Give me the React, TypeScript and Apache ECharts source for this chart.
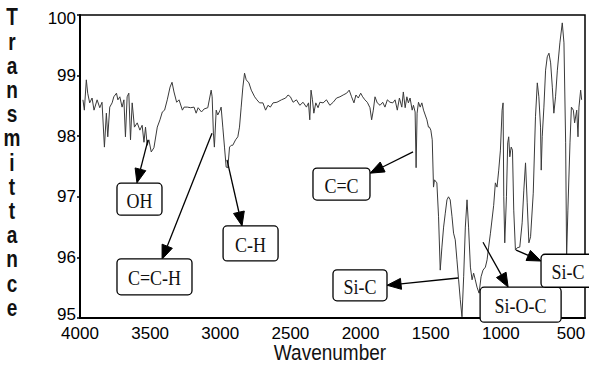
import React, { useEffect, useRef } from "react";
import * as echarts from "echarts";

// Spectrum (wavenumber in cm-1, transmittance)
const wavenumbers = [
  3979, 3969, 3955, 3945, 3931, 3914, 3900, 3878, 3859, 3843, 3826, 3812, 3802, 3788, 3771, 3759, 3740, 3730, 3716, 3700,
  3687, 3676, 3664, 3652, 3640, 3628, 3612, 3592, 3573, 3557, 3544, 3533, 3521, 3509, 3492, 3473, 3449, 3430, 3413, 3397,
  3378, 3358, 3344, 3330, 3311, 3294, 3270, 3258, 3235, 3211, 3187, 3172, 3158, 3134, 3115, 3089, 3065, 3058, 3049, 3042,
  3029, 3018, 3001, 2994, 2982, 2970, 2958, 2946, 2934, 2922, 2911, 2891, 2875, 2863, 2851, 2839, 2827, 2815, 2796, 2779,
  2755, 2739, 2720, 2696, 2677, 2660, 2643, 2624, 2596, 2564, 2534, 2517, 2500, 2481, 2457, 2433, 2410, 2386, 2371, 2362,
  2353, 2343, 2333, 2319, 2303, 2290, 2267, 2243, 2219, 2195, 2171, 2147, 2124, 2099, 2081, 2064, 2047, 2033, 2016, 1999,
  1985, 1969, 1952, 1933, 1921, 1909, 1897, 1881, 1861, 1842, 1826, 1809, 1790, 1770, 1754, 1738, 1723, 1706, 1695, 1682,
  1670, 1659, 1647, 1632, 1623, 1611, 1604, 1597, 1587, 1575, 1563, 1551, 1539, 1527, 1516, 1509, 1499, 1489, 1480, 1473,
  1456, 1444, 1432, 1420, 1408, 1396, 1384, 1373, 1361, 1348, 1337, 1325, 1313, 1301, 1289, 1277, 1265, 1253, 1241, 1230,
  1217, 1205, 1194, 1182, 1170, 1155, 1141, 1127, 1110, 1098, 1087, 1074, 1051, 1039, 1027, 1015, 1003, 991, 984, 979,
  972, 960, 951, 944, 936, 926, 917, 908, 896, 883, 865, 848, 836, 824, 812, 800, 788, 769, 753, 740,
  729, 717, 712, 705, 693, 681, 669, 657, 645, 633, 622, 610, 597, 579, 562, 550, 538, 531, 522, 507,
  497, 483, 474, 459, 450, 443, 431, 424,
];

const transmittance = [
  98.6, 98.43, 98.93, 98.71, 98.55, 98.63, 98.43, 98.6, 98.47, 98.56, 97.82, 98.38, 97.99, 98.48, 98.55, 98.65, 98.71, 98.6, 98.65, 98.48,
  98.6, 97.99, 98.65, 98.71, 97.94, 98.55, 98.15, 98.22, 98.1, 98.18, 97.9, 98.15, 97.85, 97.94, 97.74, 97.81, 98.15, 98.27, 98.4, 98.43,
  98.6, 98.81, 98.89, 98.73, 98.56, 98.6, 98.43, 98.48, 98.48, 98.47, 98.48, 98.38, 98.47, 98.4, 98.45, 98.47, 98.76, 98.65, 98.05, 97.82,
  98.43, 98.35, 98.43, 98.48, 98.15, 97.82, 97.49, 97.48, 97.82, 97.85, 97.85, 97.94, 97.99, 98.15, 98.48, 98.81, 99.04, 98.93, 98.88, 98.76,
  98.65, 98.6, 98.55, 98.55, 98.43, 98.51, 98.48, 98.55, 98.56, 98.6, 98.63, 98.68, 98.65, 98.56, 98.6, 98.51, 98.56, 98.48, 98.55, 98.27,
  98.76, 98.6, 98.38, 98.55, 98.47, 98.56, 98.55, 98.6, 98.51, 98.56, 98.63, 98.65, 98.68, 98.71, 98.76, 98.65, 98.55, 98.68, 98.63, 98.71,
  98.65, 98.6, 98.56, 98.47, 98.27, 98.43, 98.65, 98.55, 98.51, 98.56, 98.48, 98.6, 98.56, 98.55, 98.6, 98.43, 98.63, 98.48, 98.73, 98.47,
  98.65, 98.55, 98.63, 98.43, 98.51, 98.4, 97.48, 98.38, 98.56, 98.48, 98.55, 98.43, 98.35, 98.27, 98.15, 98.15, 98.1, 97.94, 97.16, 97.28,
  97.23, 96.67, 95.79, 96.17, 96.5, 96.73, 96.95, 97.0, 96.95, 96.67, 96.4, 96.29, 95.96, 95.63, 95.3, 95.02, 95.68, 96.5, 96.95, 96.5,
  95.84, 95.63, 95.74, 95.63, 95.51, 95.41, 95.68, 95.79, 95.84, 95.96, 96.17, 96.4, 96.86, 97.23, 97.16, 97.44, 97.77, 98.43, 98.55, 97.0,
  96.24, 97.0, 97.89, 97.99, 97.66, 97.82, 97.77, 96.78, 96.12, 96.16, 96.17, 96.57, 97.11, 97.56, 96.9, 96.24, 96.34, 97.06, 98.32, 98.88,
  98.65, 98.15, 97.44, 97.99, 98.48, 99.09, 99.31, 99.37, 99.21, 98.81, 98.38, 98.65, 99.09, 99.54, 99.87, 99.54, 97.89, 96.01, 96.78, 97.89,
  98.48, 98.43, 98.22, 98.43, 97.99, 98.48, 98.76, 98.6,
];

const xTickValues = [4000, 3500, 3000, 2500, 2000, 1500, 1000, 500];
const yTickValues = [95, 96, 97, 98, 99, 100];

const xAxisTitle = "Wavenumber";
const yAxisTitle = "Transmittance";

// Band assignments: label, box centre (wavenumber, transmittance), arrow tail on the band, arrow tip at the box
const bandLabels = ["OH", "C=C-H", "C-H", "C=C", "Si-C", "Si-O-C", "Si-C"];
const bandBoxCentres = [
  [3576, 96.96], [3469, 95.68], [2784, 96.23], [2136, 97.21], [2004, 95.54], [859, 95.22], [521, 95.78],
];
const bandArrowTails = [
  [3515, 97.94], [3059, 98.05], [2952, 97.61], [1626, 97.74], [1305, 95.66], [1127, 96.25], [891, 96.12],
];
const bandArrowTips = [
  [3594, 97.23], [3415, 95.97], [2845, 96.52], [1932, 97.39], [1811, 95.54], [948, 95.51], [713, 95.94],
];
const boxSizes = [
  [45, 32], [75, 36], [55, 35], [57, 32], [54, 31], [81, 35], [54, 33],
];

export default function App() {
  const ref = useRef<HTMLDivElement>(null);

  useEffect(() => {
    if (!ref.current) return;
    const chart = echarts.init(ref.current, undefined, { renderer: "svg" });
    const data = wavenumbers.map((w, i) => [w, transmittance[i]]);
    const sansAxis = '"Liberation Sans", Arial, sans-serif';
    const yMin = yTickValues[0];
    const yMax = yTickValues[yTickValues.length - 1];

    chart.setOption({
      animation: false,
      backgroundColor: "#ffffff",
      grid: {
        left: 80,
        right: 4,
        top: 15,
        bottom: 54,
        show: true,
        borderColor: "#000",
        borderWidth: 1.5,
      },
      xAxis: {
        type: "value",
        inverse: true,
        min: 400,
        max: 4000,
        axisLine: { show: true, lineStyle: { color: "#000", width: 2 } },
        axisTick: { show: false },
        splitLine: { show: false },
        axisLabel: {
          customValues: xTickValues,
          formatter: (v: number) => String(v),
          color: "#000",
          fontSize: 17,
          fontFamily: sansAxis,
          margin: 9,
          lineHeight: 12,
        },
      },
      yAxis: {
        type: "value",
        min: yMin,
        max: yMax,
        interval: 1,
        axisLine: { show: true, lineStyle: { color: "#000", width: 2 } },
        axisTick: { show: true, length: 3, lineStyle: { color: "#000", width: 1.5 } },
        splitLine: { show: false },
        axisLabel: {
          customValues: yTickValues,
          formatter: (v: number) =>
            v === yMin ? `{low|${v}}` : v === yMax ? `{high|${v}}` : `{mid|${v}}`,
          rich: {
            low: { fontSize: 17, fontFamily: sansAxis, color: "#000", lineHeight: 12, padding: [0, 0, 8, 0] },
            high: { fontSize: 17, fontFamily: sansAxis, color: "#000", lineHeight: 12, padding: [6, 0, 0, 0] },
            mid: { fontSize: 17, fontFamily: sansAxis, color: "#000", lineHeight: 12 },
          },
          color: "#000",
          fontSize: 17,
          fontFamily: sansAxis,
          margin: 4,
        },
      },
      series: [
        {
          type: "line",
          data,
          showSymbol: false,
          smooth: false,
          lineStyle: { color: "#3a3a3a", width: 1 },
          z: 2,
        },
      ],
    });

    const toPx = (p: number[]) => chart.convertToPixel({ gridIndex: 0 }, p) as number[];
    const elements: any[] = [];

    bandLabels.forEach((label, i) => {
      const c = toPx(bandBoxCentres[i]);
      const [w, h] = boxSizes[i];
      const tail = toPx(bandArrowTails[i]);
      const tip = toPx(bandArrowTips[i]);
      const dx = tip[0] - tail[0];
      const dy = tip[1] - tail[1];
      const len = Math.sqrt(dx * dx + dy * dy);
      const ux = dx / len;
      const uy = dy / len;
      const headL = 14;
      const headW = 5.5;
      const bx = tip[0] - ux * headL;
      const by = tip[1] - uy * headL;
      elements.push({
        type: "line",
        shape: { x1: tail[0], y1: tail[1], x2: bx, y2: by },
        style: { stroke: "#000", lineWidth: 1.3 },
        z: 10,
      });
      elements.push({
        type: "polygon",
        shape: {
          points: [
            [tip[0], tip[1]],
            [bx - uy * headW, by + ux * headW],
            [bx + uy * headW, by - ux * headW],
          ],
        },
        style: { fill: "#000", stroke: "#000", lineWidth: 1 },
        z: 10,
      });
      elements.push({
        type: "rect",
        shape: { x: c[0] - w / 2, y: c[1] - h / 2, width: w, height: h, r: 4 },
        style: { fill: "#fff", stroke: "#000", lineWidth: 1.3 },
        z: 11,
      });
      elements.push({
        type: "text",
        x: c[0],
        y: c[1] + 1,
        scaleY: 1.2,
        style: {
          text: label,
          fill: "#111",
          font: '18px "Liberation Serif", "Times New Roman", serif',
          align: "center",
          textAlign: "center",
          verticalAlign: "middle",
          textVerticalAlign: "middle",
        },
        z: 12,
      });
    });

    elements.push({
      type: "text",
      x: 12,
      y: 5,
      scaleY: 1.28,
      style: {
        text: yAxisTitle.split("").join("\n"),
        fill: "#111",
        font: 'bold 19px "Liberation Sans", Arial, sans-serif',
        lineHeight: 18.9,
        align: "center",
        textAlign: "center",
        verticalAlign: "top",
        textVerticalAlign: "top",
      },
      z: 12,
    });
    elements.push({
      type: "text",
      x: 330,
      y: 352,
      scaleY: 1.15,
      style: {
        text: xAxisTitle,
        fill: "#111",
        font: '19px "Liberation Sans", Arial, sans-serif',
        align: "center",
        textAlign: "center",
        verticalAlign: "middle",
        textVerticalAlign: "middle",
      },
      z: 12,
    });

    chart.setOption({ graphic: { elements } });

    return () => chart.dispose();
  }, []);

  return (
    <div
      ref={ref}
      style={{ position: "fixed", left: 0, top: 0, width: 589, height: 372, background: "#fff" }}
    />
  );
}
